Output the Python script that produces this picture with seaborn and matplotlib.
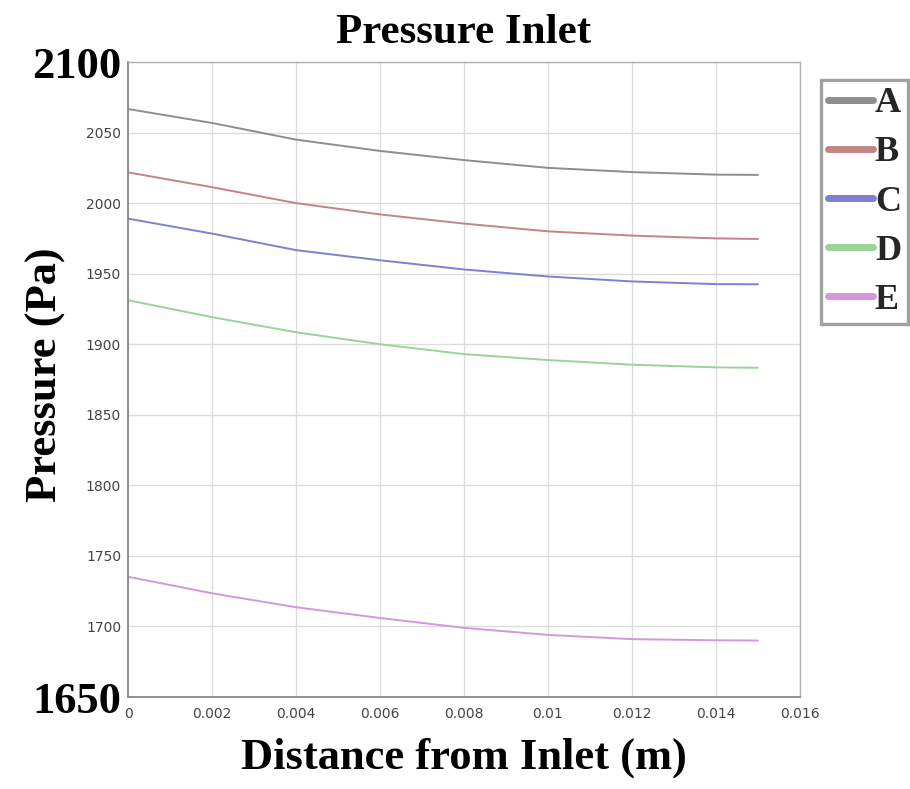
import numpy as np
import pandas as pd
import matplotlib
matplotlib.use("Agg")
import matplotlib.pyplot as plt
import seaborn as sns

# ---- data ----
distance = [0.0, 0.002, 0.004, 0.006, 0.008, 0.010, 0.012, 0.014, 0.015]
series_A = [2066.7, 2056.8, 2045.0, 2037.0, 2030.5, 2025.0, 2022.0, 2020.2, 2020.0]
series_B = [2021.8, 2011.3, 2000.0, 1992.0, 1985.5, 1980.0, 1977.0, 1975.0, 1974.6]
series_C = [1989.0, 1978.4, 1966.7, 1959.5, 1953.0, 1948.0, 1944.5, 1942.6, 1942.5]
series_D = [1931.2, 1919.2, 1908.5, 1900.0, 1893.0, 1888.8, 1885.5, 1883.6, 1883.3]
series_E = [1735.2, 1723.5, 1713.6, 1706.0, 1699.0, 1694.0, 1691.0, 1690.2, 1690.0]
series_names = ["A", "B", "C", "D", "E"]
series_values = [series_A, series_B, series_C, series_D, series_E]
y_ticks = [1650, 1700, 1750, 1800, 1850, 1900, 1950, 2000, 2050, 2100]
x_ticks = [0, 0.002, 0.004, 0.006, 0.008, 0.01, 0.012, 0.014, 0.016]
x_tick_labels = ["0", "0.002", "0.004", "0.006", "0.008", "0.01", "0.012", "0.014", "0.016"]
colors = {"A": "#8e8e8e", "B": "#c48484", "C": "#8080d2", "D": "#98d498", "E": "#d497dc"}

df = pd.DataFrame({
    "Distance": np.tile(distance, len(series_names)),
    "Pressure": np.concatenate(series_values),
    "Series": np.repeat(series_names, len(distance)),
})

sns.set_style("white")
plt.rcParams["font.family"] = ["DejaVu Sans"]

fig = plt.figure(figsize=(9.10, 7.89), dpi=100)
ax = fig.add_axes([0.1407, 0.1166, 0.879 - 0.1407, 0.9214 - 0.1166])

sns.lineplot(data=df, x="Distance", y="Pressure", hue="Series", palette=colors,
             linewidth=1.4, ax=ax, legend=True)

ax.set_xlim(0, 0.016)
ax.set_ylim(1650, 2100)
ax.set_xticks(x_ticks)
ax.set_xticklabels(x_tick_labels, fontsize=10, color="#444444")
ax.set_yticks(y_ticks)
ylabels = ax.set_yticklabels([str(v) for v in y_ticks], fontsize=10, color="#444444")
for lab in (ylabels[0], ylabels[-1]):
    lab.set_fontfamily("Liberation Serif")
    lab.set_fontweight("bold")
    lab.set_fontsize(32)
    lab.set_color("black")

ax.grid(True, color="#dcdcdc", linewidth=1.0)
ax.tick_params(axis="both", length=3, color="#888888", pad=2)
ax.tick_params(axis="x", pad=4)
for side in ["left", "bottom"]:
    ax.spines[side].set_color("#888888")
    ax.spines[side].set_linewidth(1.3)
for side in ["top", "right"]:
    ax.spines[side].set_color("#b0b0b0")
    ax.spines[side].set_linewidth(1.0)

serif = dict(family="Liberation Serif", weight="bold", color="black")
ax.set_title("Pressure Inlet", fontsize=31, pad=14, **serif)
ax.set_xlabel("Distance from Inlet (m)", fontsize=32, labelpad=12, **serif)
ax.set_ylabel("Pressure (Pa)", fontsize=32, **serif)
ax.yaxis.set_label_coords(-0.093, 0.508)

leg = ax.legend(loc="upper left", bbox_to_anchor=(1.031, 0.972), frameon=True,
                fancybox=False,
                prop={"family": "Liberation Serif", "size": 26, "weight": "bold"},
                handlelength=1.25, handletextpad=0.05, labelspacing=0.44,
                borderpad=0.2, borderaxespad=0)
leg.get_frame().set_edgecolor("#8a8a8a")
leg.get_frame().set_linewidth(2.4)
for line in leg.get_lines():
    line.set_linewidth(5)
    line.set_solid_capstyle("round")

fig.savefig("out.png", dpi=100)
